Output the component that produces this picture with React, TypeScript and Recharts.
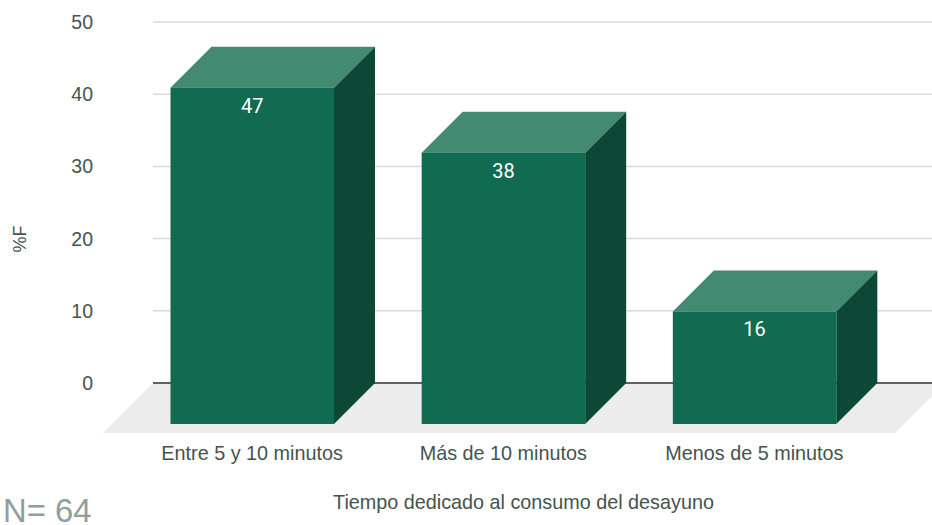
import React from "react";
import { BarChart, Bar, XAxis, YAxis, CartesianGrid, ReferenceLine, LabelList, Label } from "recharts";

const categories = ["Entre 5 y 10 minutos", "Más de 10 minutos", "Menos de 5 minutos"];
const percentages = [47, 38, 16];
const yTicks = [0, 10, 20, 30, 40, 50];
const xTitle = "Tiempo dedicado al consumo del desayuno";
const yTitle = "%F";
const sampleNote = "N= 64";

const data = categories.map((name, i) => ({ name, value: percentages[i] }));

const DEPTH = 41;
const TOP_GAP = 3;
const FONT = "'Liberation Sans', Arial, sans-serif";
const TEXT = "#44544f";

const Box3D = (props: any) => {
  const { x, y, width, height } = props;
  const top = y + TOP_GAP;
  const bottom = y + height;
  const fx = x - DEPTH;
  const ftop = top + DEPTH;
  const fbottom = bottom + DEPTH;
  return (
    <g>
      <polygon points={`${fx},${ftop} ${x},${top} ${x + width},${top} ${fx + width},${ftop}`} fill="#428a72" />
      <polygon points={`${fx + width},${ftop} ${x + width},${top} ${x + width},${bottom} ${fx + width},${fbottom}`} fill="#0c4835" />
      <rect x={fx} y={ftop} width={width} height={fbottom - ftop} fill="#116b50" />
    </g>
  );
};

const Floor = (props: any) => {
  const x1 = props.x1 ?? props.viewBox?.x ?? 153;
  const x2 = props.x2 ?? 932;
  const y = props.y1 ?? props.y ?? 383;
  return (
    <g>
      <polygon
        points={`${x1},${y} ${x2 + 13},${y} ${x2 + 13 - 50},${y + 50} ${x1 - 50},${y + 50}`}
        fill="#ececec"
      />
      <line x1={x1} x2={x2} y1={y} y2={y} stroke="#333333" strokeWidth={1.5} />
    </g>
  );
};

const CategoryTick = (props: any) => {
  const { x, y, payload } = props;
  return (
    <text x={x - DEPTH} y={y + 70.5} textAnchor="middle" fontFamily={FONT} fontSize={19.8} fill={TEXT}>
      {payload.value}
    </text>
  );
};

const ValueLabel = (props: any) => {
  const { x, y, width, value } = props;
  return (
    <text
      x={x - DEPTH + width / 2}
      y={y + TOP_GAP + DEPTH + 25}
      textAnchor="middle"
      fontFamily="Roboto, sans-serif"
      fontSize={20}
      fill="#ffffff"
    >
      {value}
    </text>
  );
};

export default function App() {
  return (
    <div style={{ position: "absolute", left: 0, top: 0, width: 932, height: 525, overflow: "hidden", background: "#fff" }}>
      <BarChart
        width={932}
        height={525}
        data={data}
        margin={{ top: 22, right: 0, bottom: 0, left: 33 }}
        barCategoryGap={87}
      >
        <CartesianGrid vertical={false} stroke="#d9d9d9" strokeWidth={1.5} />
        <ReferenceLine y={0} shape={<Floor />} zIndex={50} />
        <XAxis
          dataKey="name"
          height={142}
          axisLine={false}
          tickLine={false}
          padding={{ left: 14.5, right: 11 }}
          tick={<CategoryTick />}
          tickMargin={0}
          interval={0}
        >
          <Label value={xTitle} position="insideBottom" dx={-19} offset={16} fontFamily={FONT} fontSize={19.8} fill={TEXT} />
        </XAxis>
        <YAxis
          domain={[0, 50]}
          ticks={yTicks}
          width={120}
          axisLine={false}
          tickLine={false}
          tickMargin={54}
          tick={{ fontFamily: FONT, fontSize: 19.5, fill: TEXT }}
        >
          <Label value={yTitle} angle={-90} position="left" dx={-8} dy={23} fontFamily={FONT} fontSize={18} fill={TEXT} />
        </YAxis>
        <Bar dataKey="value" barSize={163.5} isAnimationActive={false} shape={<Box3D />}>
          <LabelList dataKey="value" content={<ValueLabel />} />
        </Bar>
      </BarChart>
      <div style={{ position: "absolute", left: 3, top: 497, fontFamily: FONT, fontSize: 32.8, color: "#8fa09b", lineHeight: "28px" }}>
        {sampleNote}
      </div>
    </div>
  );
}
